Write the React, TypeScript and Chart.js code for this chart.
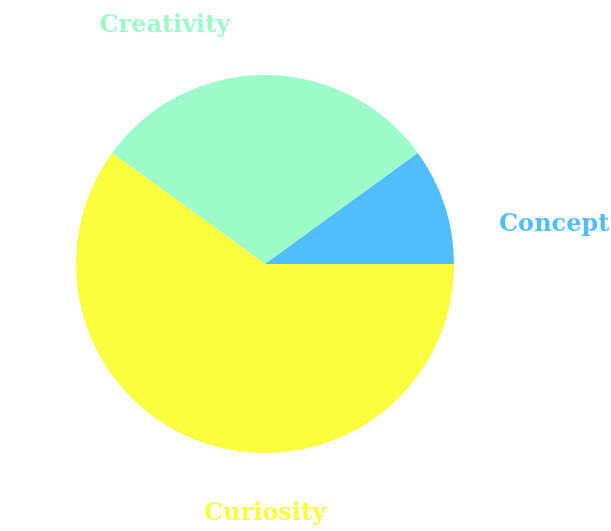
import React, { useEffect, useRef } from "react";
import { Chart, registerables } from "chart.js";

Chart.register(...registerables);

const labels = ["Creativity", "Concept", "Curiosity"];
const values = [30, 10, 60];
const colors = ["#9dfbc9", "#50befd", "#fbfe3d"];
// label anchor (text centre x, baseline y) relative to pie centre, in units of radius
const labelDx = [-0.53, 1.53, 0];
const labelDy = [-1.228, -0.175, 1.354];

const outsideLabels = {
  id: "outsideLabels",
  afterDraw(chart: any) {
    const meta = chart.getDatasetMeta(0);
    const arc = meta.data[0];
    if (!arc) return;
    const { x, y, outerRadius } = arc.getProps(["x", "y", "outerRadius"], true);
    const ctx = chart.ctx;
    ctx.save();
    ctx.font = "bold 24px 'DejaVu Serif'";
    ctx.textAlign = "center";
    ctx.textBaseline = "alphabetic";
    labels.forEach((l, i) => {
      ctx.fillStyle = colors[i];
      ctx.fillText(l, x + labelDx[i] * outerRadius, y + labelDy[i] * outerRadius);
    });
    ctx.restore();
  },
};

export default function App() {
  const ref = useRef<HTMLCanvasElement>(null);
  useEffect(() => {
    document.body.style.margin = "0";
    const chart = new Chart(ref.current!, {
      type: "pie",
      data: {
        labels,
        datasets: [
          {
            data: values,
            backgroundColor: colors,
            borderWidth: 0,
            hoverOffset: 0,
            offset: 0,
          },
        ],
      },
      options: {
        responsive: false,
        animation: false,
        rotation: 306,
        layout: { padding: { left: 76, right: 157, top: 75, bottom: 78 } },
        plugins: { legend: { display: false }, tooltip: { enabled: false } },
      },
      plugins: [outsideLabels],
    });
    return () => chart.destroy();
  }, []);
  return (
    <div style={{ width: 611, height: 531 }}>
      <canvas ref={ref} width={611} height={531} />
    </div>
  );
}
